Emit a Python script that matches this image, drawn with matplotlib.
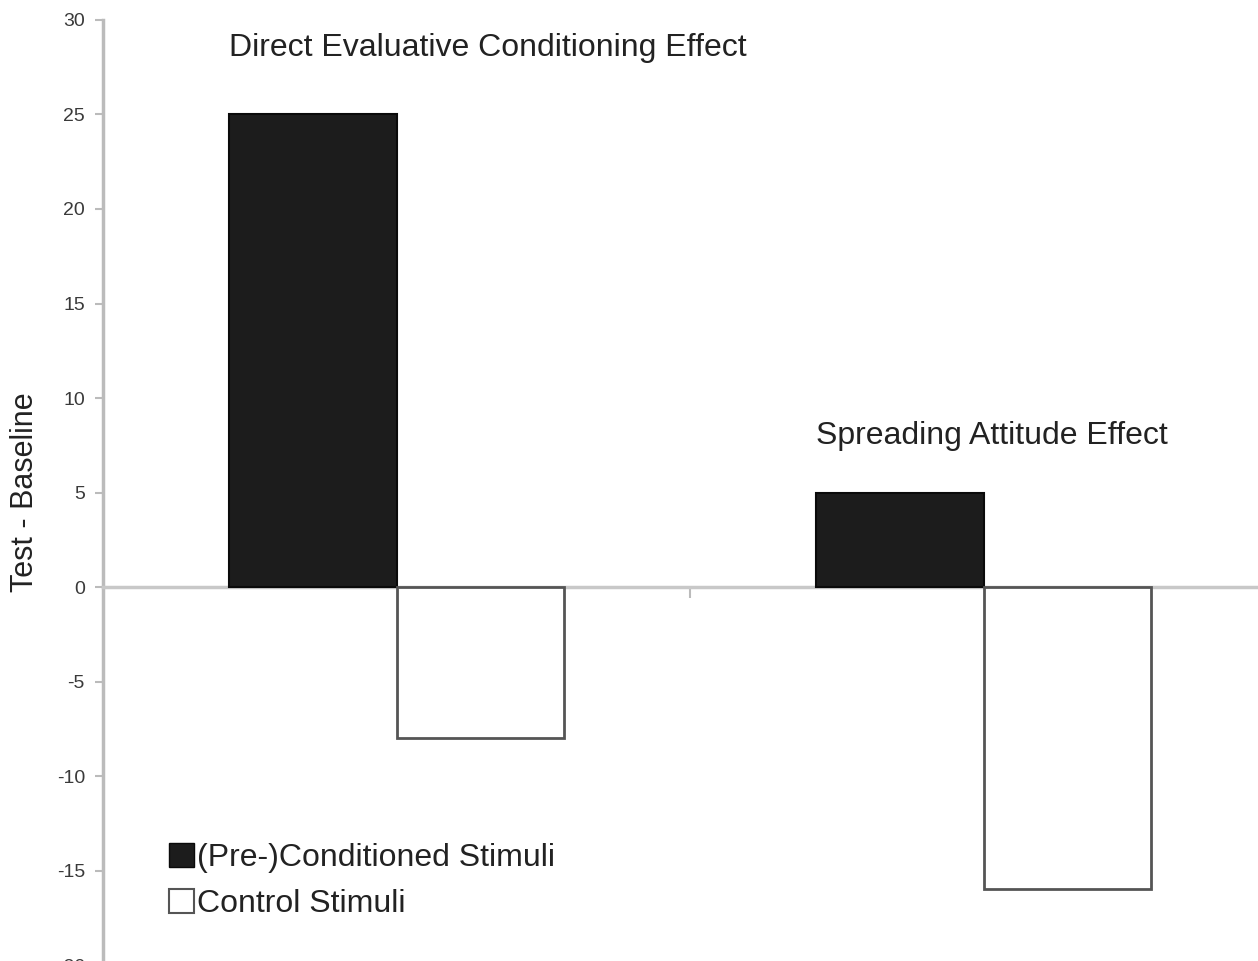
import matplotlib.pyplot as plt
import numpy as np
from matplotlib.patches import Patch

plt.rcParams['font.family'] = ['Liberation Sans', 'DejaVu Sans']
plt.rcParams['axes.unicode_minus'] = False

# Data -------------------------------------------
groups      = ['Direct Evaluative Conditioning Effect', 'Spreading Attitude Effect']
conditioned = [25, 5]      # (Pre-)Conditioned Stimuli
control     = [-8, -16]    # Control Stimuli
yticks      = [-20, -15, -10, -5, 0, 5, 10, 15, 20, 25, 30]
series_names = ['(Pre-)Conditioned Stimuli', 'Control Stimuli']

# Figure ------------------------------------------
fig = plt.figure(figsize=(12.58, 9.61), dpi=100)
ax = fig.add_axes([0.0819, -0.0042, 0.9332, 0.9834])

x = np.arange(len(groups))
w = 0.286
ax.bar(x - w/2, conditioned, width=w, color='#1c1c1c', edgecolor='#0a0a0a', linewidth=1.5, zorder=3)
ax.bar(x + w/2, control, width=w, color='white', edgecolor='#555555', linewidth=2, zorder=3)

ax.set_xlim(-0.5, 1.5)
ax.set_ylim(-20, 30)
ax.set_yticks(yticks)
ax.tick_params(axis='y', direction='out', length=6, width=1.5, color='#bbbbbb',
               labelsize=14, labelcolor='#3a3a3a', pad=7)

# zero line as the bottom spine, with the category separator tick
ax.spines['bottom'].set_position(('data', 0))
ax.spines['bottom'].set_color('#c8c8c8')
ax.spines['bottom'].set_linewidth(2.5)
ax.set_xticks([0.5])
ax.set_xticklabels([''])
ax.tick_params(axis='x', direction='out', length=8, width=1.5, color='#bbbbbb')
ax.spines['left'].set_color('#bbbbbb')
ax.spines['left'].set_linewidth(2.5)
ax.spines['top'].set_visible(False)
ax.spines['right'].set_visible(False)

ax.set_ylabel('Test - Baseline', fontsize=22, color='#222222')
ax.yaxis.set_label_coords(-0.054, 0.5)

# group labels
ax.text(x[0] - w, 28.5, groups[0], fontsize=23, color='#222222', ha='left', va='center')
ax.text(x[1] - w, 8.0, groups[1], fontsize=23, color='#222222', ha='left', va='center')

handles = [Patch(facecolor='#1c1c1c', edgecolor='#0a0a0a'),
           Patch(facecolor='white', edgecolor='#555555', linewidth=1.5)]
ax.legend(handles, series_names, loc='upper left', bbox_to_anchor=(0.045, 0.143),
          frameon=False, fontsize=23, handlelength=0.8, handleheight=0.8,
          handletextpad=0.1, labelspacing=0.5, labelcolor='#222222',
          borderaxespad=0)

fig.savefig('out.png', dpi=100)
